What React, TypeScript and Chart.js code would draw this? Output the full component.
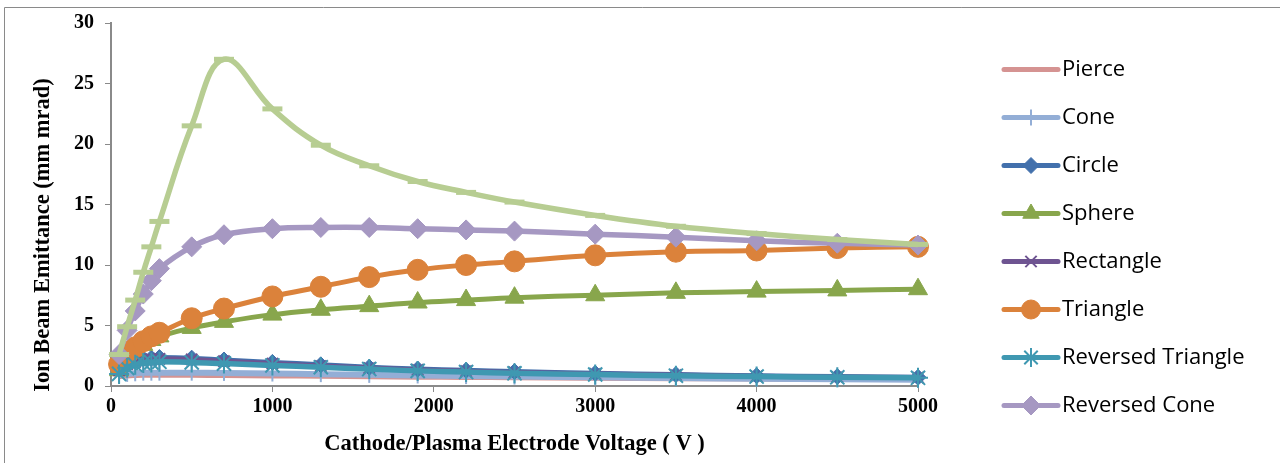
import React, { useEffect, useRef } from 'react';
import { Chart, registerables } from 'chart.js';
import { drawPoint } from 'chart.js/helpers';

Chart.register(...registerables);

// ---------- data ----------
const voltages = [50, 100, 150, 200, 250, 300, 500, 700, 1000, 1300, 1600, 1900, 2200, 2500, 3000, 3500, 4000, 4500, 5000];

const pierce = [0.7, 0.75, 0.78, 0.8, 0.8, 0.8, 0.8, 0.78, 0.75, 0.72, 0.68, 0.65, 0.62, 0.6, 0.56, 0.52, 0.5, 0.47, 0.45];
const cone = [0.9, 1.0, 1.05, 1.1, 1.1, 1.1, 1.1, 1.08, 1.03, 0.98, 0.92, 0.87, 0.82, 0.78, 0.72, 0.66, 0.6, 0.56, 0.52];
const circle = [1.4, 1.9, 2.1, 2.25, 2.3, 2.35, 2.3, 2.15, 1.95, 1.75, 1.55, 1.4, 1.3, 1.2, 1.05, 0.95, 0.85, 0.78, 0.72];
const sphere = [1.3, 2.3, 2.9, 3.4, 3.8, 4.1, 4.8, 5.3, 5.9, 6.3, 6.6, 6.9, 7.1, 7.3, 7.5, 7.7, 7.8, 7.9, 8.0];
const rectangle = [1.3, 1.8, 2.0, 2.15, 2.2, 2.25, 2.2, 2.05, 1.85, 1.65, 1.48, 1.33, 1.22, 1.12, 1.0, 0.9, 0.8, 0.74, 0.7];
const triangle = [1.8, 2.6, 3.2, 3.7, 4.1, 4.4, 5.6, 6.4, 7.4, 8.2, 9.0, 9.6, 10.0, 10.3, 10.8, 11.1, 11.2, 11.4, 11.5];
const reversedTriangle = [1.0, 1.5, 1.75, 1.9, 1.95, 2.0, 1.95, 1.85, 1.7, 1.55, 1.4, 1.25, 1.15, 1.05, 0.95, 0.85, 0.78, 0.72, 0.68];
const reversedCone = [2.6, 4.6, 6.2, 7.6, 8.7, 9.7, 11.5, 12.5, 13.0, 13.1, 13.1, 13.0, 12.9, 12.8, 12.55, 12.3, 12.0, 11.8, 11.65];
const unlabeledSeries = [2.6, 4.9, 7.1, 9.4, 11.5, 13.6, 21.5, 27.0, 22.9, 19.9, 18.2, 16.9, 16.0, 15.2, 14.1, 13.2, 12.6, 12.1, 11.7];

const xTicks = [0, 1000, 2000, 3000, 4000, 5000];
const yTicks = [0, 5, 10, 15, 20, 25, 30];

const X_TITLE = 'Cathode/Plasma Electrode Voltage ( V )';
const Y_TITLE = 'Ion Beam Emittance (mm mrad)';

type SeriesDef = {
  label: string;
  values: number[];
  color: string;
  pointStyle: any;
  radius: number;
  pointBorder: number;
  lineWidth: number;
  rotation?: number;
  inLegend: boolean;
};

const series: SeriesDef[] = [
  { label: 'Pierce', values: pierce, color: '#D59392', pointStyle: 'circle', radius: 0, pointBorder: 0, lineWidth: 3, inLegend: true },
  { label: 'Cone', values: cone, color: '#93AED6', pointStyle: 'line', radius: 8, pointBorder: 2, lineWidth: 6, rotation: 90, inLegend: true },
  { label: 'Circle', values: circle, color: '#4270AC', pointStyle: 'rectRot', radius: 8, pointBorder: 1, lineWidth: 5, inLegend: true },
  { label: 'Sphere', values: sphere, color: '#88A64C', pointStyle: 'triangle', radius: 11, pointBorder: 1, lineWidth: 5, inLegend: true },
  { label: 'Rectangle', values: rectangle, color: '#6E5491', pointStyle: 'crossRot', radius: 8, pointBorder: 2, lineWidth: 5, inLegend: true },
  { label: 'Triangle', values: triangle, color: '#DB823B', pointStyle: 'circle', radius: 10.5, pointBorder: 1, lineWidth: 5, inLegend: true },
  { label: 'Reversed Triangle', values: reversedTriangle, color: '#3F98B1', pointStyle: 'star', radius: 10, pointBorder: 2, lineWidth: 5.5, inLegend: true },
  { label: 'Reversed Cone', values: reversedCone, color: '#A698C2', pointStyle: 'rectRot', radius: 10, pointBorder: 1, lineWidth: 5.5, inLegend: true },
  { label: '', values: unlabeledSeries, color: '#B7CD92', pointStyle: 'line', radius: 10, pointBorder: 5, lineWidth: 5.5, inLegend: false },
];

const SERIF = '"Liberation Serif", "Times New Roman", serif';
const TICK_FONT = { family: SERIF, weight: 'bold' as const, size: 20 };

const decorPlugin = {
  id: 'decor',
  beforeDraw(chart: any) {
    const ctx = chart.ctx;
    ctx.save();
    ctx.fillStyle = '#ffffff';
    ctx.fillRect(0, 0, chart.width, chart.height);
    ctx.strokeStyle = '#8a8a8a';
    ctx.lineWidth = 1;
    ctx.beginPath();
    ctx.moveTo(4.5, chart.height);
    ctx.lineTo(4.5, 7.5);
    ctx.lineTo(chart.width, 7.5);
    ctx.stroke();
    ctx.restore();
  },
  afterDraw(chart: any) {
    const ctx = chart.ctx;
    const area = chart.chartArea;
    ctx.save();
    ctx.fillStyle = '#000';
    ctx.textAlign = 'center';
    ctx.textBaseline = 'middle';
    ctx.font = 'bold 22.5px ' + SERIF;
    ctx.fillText(X_TITLE, (area.left + area.right) / 2, 444);
    ctx.translate(43, 235);
    ctx.rotate(-Math.PI / 2);
    ctx.fillText(Y_TITLE, 0, 0);
    ctx.restore();

    // legend
    ctx.save();
    let k = 0;
    series.forEach((s) => {
      if (!s.inLegend) return;
      const y = 69.5 + k * 48;
      k++;
      ctx.strokeStyle = s.color;
      ctx.lineWidth = 5;
      ctx.lineCap = 'round';
      ctx.beginPath();
      ctx.moveTo(1004, y);
      ctx.lineTo(1058, y);
      ctx.stroke();
      if (s.radius > 0) {
        ctx.fillStyle = s.color;
        ctx.strokeStyle = s.color;
        ctx.lineWidth = s.pointBorder;
        ctx.lineCap = 'butt';
        drawPoint(ctx, { pointStyle: s.pointStyle, rotation: s.rotation || 0, radius: Math.min(s.radius, 9.5), borderWidth: s.pointBorder }, 1031, y);
      }
      ctx.fillStyle = '#000';
      ctx.font = '22px "Open Sans", "Noto Sans", sans-serif';
      ctx.textAlign = 'left';
      ctx.textBaseline = 'middle';
      ctx.fillText(s.label, 1062, y);
    });
    ctx.restore();
  },
};

export default function App() {
  const canvasRef = useRef<HTMLCanvasElement | null>(null);

  useEffect(() => {
    const canvas = canvasRef.current;
    if (!canvas) return;
    const n = series.length;
    const chart = new Chart(canvas, {
      type: 'line',
      data: {
        datasets: series.map((s, i) => ({
          label: s.label,
          data: voltages.map((v, j) => ({ x: v, y: s.values[j] })),
          borderColor: s.color,
          backgroundColor: s.color,
          borderWidth: s.lineWidth,
          pointStyle: s.pointStyle,
          pointRadius: s.radius,
          pointBorderWidth: s.pointBorder,
          pointBackgroundColor: s.color,
          pointBorderColor: s.color,
          pointRotation: s.rotation || 0,
          tension: 0.4,
          fill: false,
          clip: false as any,
          order: n - 1 - i,
        })),
      },
      options: {
        responsive: false,
        animation: false,
        devicePixelRatio: 1,
        layout: { padding: { top: 23, right: 362, left: 0, bottom: 0 } },
        plugins: { legend: { display: false }, tooltip: { enabled: false }, title: { display: false } },
        scales: {
          x: {
            type: 'linear',
            min: 0,
            max: 5000,
            afterBuildTicks: (scale: any) => {
              scale.ticks = xTicks.map((v) => ({ value: v }));
            },
            ticks: { font: TICK_FONT, color: '#000', padding: 3, maxRotation: 0, callback: (v: any) => String(v) },
            grid: { drawOnChartArea: false, tickLength: 6, color: '#8a8a8a', lineWidth: 1 },
            border: { color: '#8a8a8a', width: 2 },
            afterFit: (scale: any) => {
              scale.height = 463 - 386;
            },
          },
          y: {
            type: 'linear',
            min: 0,
            max: 30,
            afterBuildTicks: (scale: any) => {
              scale.ticks = yTicks.map((v) => ({ value: v }));
            },
            ticks: { font: TICK_FONT, color: '#000', padding: 11, callback: (v: any) => String(v) },
            grid: { drawOnChartArea: false, tickLength: 6, color: '#8a8a8a', lineWidth: 1 },
            border: { color: '#8a8a8a', width: 2 },
            afterFit: (scale: any) => {
              scale.width = 111;
            },
          },
        },
      },
      plugins: [decorPlugin],
    });
    return () => chart.destroy();
  }, []);

  return (
    <div style={{ position: 'fixed', left: 0, top: 0, width: 1280, height: 463, background: '#fff' }}>
      <canvas ref={canvasRef} width={1280} height={463} style={{ width: 1280, height: 463, display: 'block' }} />
    </div>
  );
}
